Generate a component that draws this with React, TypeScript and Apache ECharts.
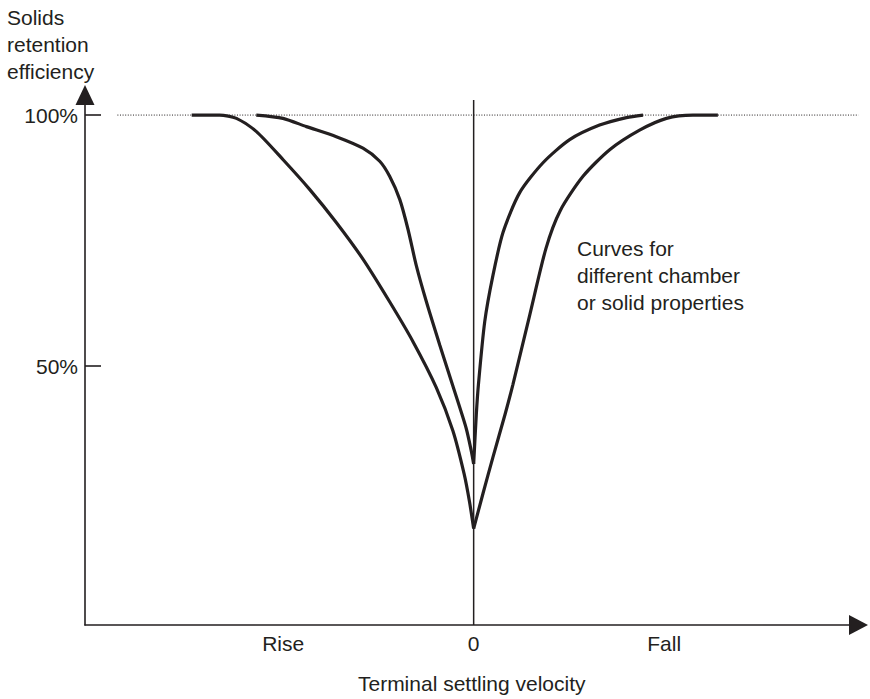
import React, { useEffect, useRef } from "react";
import * as echarts from "echarts";

// Velocity axis (arbitrary units: negative = rise, positive = fall)
const xTickValues = [-1, 0, 1];
const xTickLabels = ["Rise", "0", "Fall"];
const yTickValues = [50, 100];
const yTickLabels = ["50%", "100%"];

// Curve A (wider curve), left and right branches meeting at the cusp
const outerLeft: number[][] = [
  [-1.48, 100], [-1.333, 100], [-1.245, 99.35], [-1.14, 96.7], [-1.0, 91.1],
  [-0.861, 85.2], [-0.721, 78.6], [-0.581, 71.3], [-0.441, 62.8], [-0.319, 54.9],
  [-0.196, 45.7], [-0.109, 37.1], [-0.05, 28.5], [-0.022, 23.0], [0, 17.6],
];
const outerRight: number[][] = [
  [0, 17.6], [0.049, 24.6], [0.101, 31.8], [0.165, 40.4], [0.206, 46.3],
  [0.294, 60.1], [0.38, 73.5], [0.455, 81.0], [0.574, 87.8], [0.714, 93.1],
  [0.871, 97.0], [1.012, 99.35], [1.151, 100], [1.282, 100],
];
// Curve B (narrower curve)
const innerLeft: number[][] = [
  [-1.141, 100], [-1.001, 99.35], [-0.878, 97.7], [-0.721, 95.7], [-0.581, 93.4],
  [-0.493, 90.8], [-0.441, 87.8], [-0.388, 83.2], [-0.345, 77.3], [-0.301, 70.0],
  [-0.248, 62.8], [-0.178, 54.2], [-0.109, 46.0], [-0.04, 37.7], [-0.012, 33.0],
  [0, 30.5],
];
const innerRight: number[][] = [
  [0, 30.5], [0.014, 40.4], [0.025, 46.3], [0.058, 58.8], [0.101, 68.0],
  [0.154, 76.6], [0.241, 84.5], [0.364, 90.5], [0.504, 95.1], [0.661, 98.0],
  [0.802, 99.5], [0.889, 100],
];
// Reference lines
const fullRetentionLine: number[][] = [[-1.87, 100], [2.02, 100]];
const zeroVelocityLine: number[][] = [[0, -1.6], [0, 103]];

const INK = "#231f20";
const FONT = '"Liberation Sans", Arial, Helvetica, sans-serif';

export default function App() {
  const ref = useRef<HTMLDivElement>(null);
  useEffect(() => {
    if (!ref.current) return;
    const chart = echarts.init(ref.current, null, { renderer: "svg" });
    const curveStyle = { color: INK, width: 3.2, cap: "butt" as const };
    const curve = (data: number[][]) => ({
      type: "line",
      data,
      showSymbol: false,
      smooth: 0.25,
      silent: true,
      z: 5,
      lineStyle: curveStyle,
    });
    chart.setOption({
      animation: false,
      backgroundColor: "#ffffff",
      textStyle: { fontFamily: FONT, color: INK },
      grid: { left: 85, right: 11.5, top: 95, bottom: 70, containLabel: false },
      xAxis: {
        type: "value",
        min: -2.04,
        max: 2.02,
        name: "Terminal settling velocity",
        nameLocation: "middle",
        nameGap: 48,
        nameTextStyle: { fontSize: 21, color: INK, fontFamily: FONT },
        axisLine: {
          show: true,
          onZero: false,
          symbol: ["none", "triangle"],
          symbolSize: [20, 19],
          lineStyle: { color: INK, width: 1.6 },
        },
        axisTick: { show: false },
        splitLine: { show: false },
        axisLabel: {
          customValues: xTickValues,
          formatter: (v: number) => xTickLabels[xTickValues.indexOf(v)] ?? "",
          fontSize: 21,
          color: INK,
          fontFamily: FONT,
          margin: 8,
        },
      },
      yAxis: {
        type: "value",
        min: -1.6,
        max: 104,
        axisLine: {
          show: true,
          onZero: false,
          symbol: ["none", "triangle"],
          symbolSize: [19, 20],
          lineStyle: { color: INK, width: 1.6 },
        },
        axisTick: {
          show: true,
          inside: true,
          length: 16,
          customValues: yTickValues,
          lineStyle: { color: INK, width: 1.6 },
        },
        splitLine: { show: false },
        axisLabel: {
          customValues: yTickValues,
          formatter: (v: number) => yTickLabels[yTickValues.indexOf(v)] ?? "",
          fontSize: 21,
          color: INK,
          fontFamily: FONT,
          margin: 7,
        },
      },
      graphic: [
        {
          type: "text",
          left: 7,
          top: 3.5,
          style: {
            text: "Solids\nretention\nefficiency",
            font: `21px ${FONT}`,
            fill: INK,
            lineHeight: 27,
          },
        },
        {
          type: "text",
          left: 577,
          top: 234.5,
          style: {
            text: "Curves for\ndifferent chamber\nor solid properties",
            font: `21px ${FONT}`,
            fill: INK,
            lineHeight: 27,
          },
        },
      ],
      series: [
        {
          type: "line",
          data: fullRetentionLine,
          showSymbol: false,
          silent: true,
          z: 2,
          lineStyle: { color: INK, width: 1, type: [1, 1.6] },
        },
        {
          type: "line",
          data: zeroVelocityLine,
          showSymbol: false,
          silent: true,
          z: 3,
          lineStyle: { color: INK, width: 1.5 },
        },
        curve(outerLeft),
        curve(outerRight),
        curve(innerLeft),
        curve(innerRight),
      ],
    });
    return () => chart.dispose();
  }, []);
  return (
    <div
      ref={ref}
      style={{ position: "fixed", left: 0, top: 0, width: 870, height: 699 }}
    />
  );
}
